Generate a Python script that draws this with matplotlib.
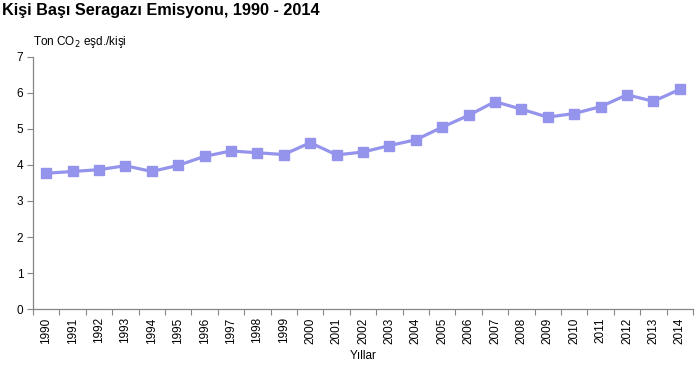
import matplotlib
matplotlib.use("Agg")
import matplotlib.pyplot as plt
import numpy as np

plt.rcParams['font.family'] = ['Liberation Sans', 'DejaVu Sans']

years = [str(y) for y in range(1990, 2015)]
values = [3.77, 3.82, 3.87, 3.98, 3.82, 3.99, 4.24, 4.39, 4.34, 4.29, 4.62, 4.28,
          4.36, 4.54, 4.70, 5.05, 5.38, 5.76, 5.55, 5.33, 5.43, 5.62, 5.95, 5.77, 6.10]
yticks = [0, 1, 2, 3, 4, 5, 6, 7]

title = "Kişi Başı Seragazı Emisyonu, 1990 - 2014"
ylabel = "Ton CO$_2$ eşd./kişi"
xlabel = "Yıllar"

fig = plt.figure(figsize=(6.96, 3.65), dpi=100)
ax = fig.add_axes([33/696, 56/365, 660/696, 252/365])

x = np.arange(len(years))
ax.plot(x, values, color='#9494EC', lw=2.3, marker='s', markersize=7.5,
        markeredgecolor='#9494EC', markerfacecolor='#9494EC', solid_joinstyle='round')

ax.set_xlim(-0.5, len(years) - 0.5)
ax.set_ylim(0, 7)
ax.set_yticks(yticks)
ax.set_yticklabels([str(t) for t in yticks], fontsize=8.5)

ax.set_xticks(x)
ax.set_xticklabels(years, rotation=90, fontsize=8.5)
ax.tick_params(axis='x', which='major', length=0, pad=6)
ax.set_xticks(np.arange(-0.5, len(years), 1), minor=True)
ax.tick_params(axis='x', which='minor', length=4, color='#868686', width=0.8, direction='out')
ax.tick_params(axis='y', length=4, color='#868686', width=0.8, direction='out', pad=3)

for s in ['top', 'right']:
    ax.spines[s].set_visible(False)
for s in ['left', 'bottom']:
    ax.spines[s].set_color('#868686')
    ax.spines[s].set_linewidth(0.9)

fig.text(2/696, 1 - 11/365, title, fontsize=11.7, fontweight='bold', ha='left', va='center')
fig.text(33/696, 1 - 42/365, ylabel, fontsize=8.5, ha='left', va='center')
fig.text(363/696, 1 - 356/365, xlabel, fontsize=8.5, ha='center', va='center')

fig.savefig('out.png', dpi=100)
